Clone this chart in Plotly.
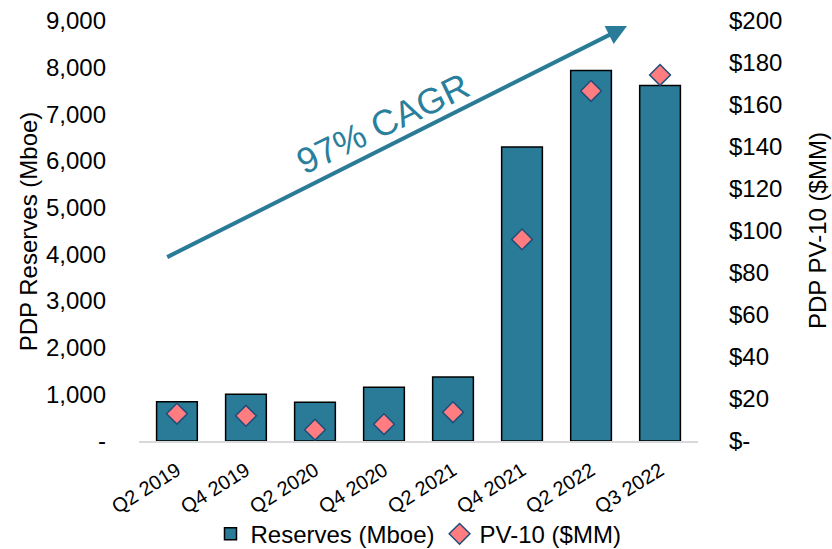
import plotly.graph_objects as go

# Quarterly PDP reserves and PV-10
quarters = ["Q2 2019", "Q4 2019", "Q2 2020", "Q4 2020", "Q2 2021", "Q4 2021", "Q2 2022", "Q3 2022"]
reserves_mboe = [840, 1000, 830, 1150, 1370, 6300, 7940, 7620]
pv10_mm = [13, 12, 5.4, 8, 13.7, 96, 166.7, 174.3]

left_ticks = [0, 1000, 2000, 3000, 4000, 5000, 6000, 7000, 8000, 9000]
left_labels = ["-", "1,000", "2,000", "3,000", "4,000", "5,000", "6,000", "7,000", "8,000", "9,000"]
right_ticks = [0, 20, 40, 60, 80, 100, 120, 140, 160, 180, 200]
right_labels = ["$-", "$20", "$40", "$60", "$80", "$100", "$120", "$140", "$160", "$180", "$200"]

TEAL = "#297b97"
FONT = "Liberation Sans, Arial, sans-serif"

fig = go.Figure()
fig.add_trace(go.Bar(
    x=quarters, y=reserves_mboe, name="Reserves (Mboe)",
    marker=dict(color=TEAL, line=dict(color="#000000", width=1.5)),
    yaxis="y",
))
fig.add_trace(go.Scatter(
    x=quarters, y=pv10_mm, name="PV-10 ($MM)", mode="markers",
    marker=dict(symbol="diamond", size=16, color="#ff7c80",
                line=dict(color="#1f4e79", width=1.5)),
    yaxis="y2",
))

fig.update_layout(
    width=832, height=549,
    margin=dict(l=139, r=134, t=21, b=108, autoexpand=False),
    paper_bgcolor="white", plot_bgcolor="white",
    font=dict(family=FONT, color="#000000"),
    bargap=0.41,
    showlegend=True,
    legend=dict(orientation="h", x=0.5, xanchor="center", y=-0.222, yanchor="middle",
                font=dict(size=24, family=FONT), itemwidth=30, tracegroupgap=0),
    xaxis=dict(
        showgrid=False, showline=True, linecolor="#d9d9d9", linewidth=2,
        tickangle=-32, tickfont=dict(size=20, family=FONT), ticks="",
        ticklabelstandoff=8, automargin=False,
    ),
    yaxis=dict(
        range=[0, 9000], tickvals=left_ticks, ticktext=left_labels,
        showgrid=False, zeroline=False, showline=False,
        tickfont=dict(size=24, family=FONT), ticklabelstandoff=32,
        automargin=False,
    ),
    yaxis2=dict(
        range=[0, 200], tickvals=right_ticks, ticktext=right_labels,
        overlaying="y", side="right",
        showgrid=False, zeroline=False, showline=False,
        tickfont=dict(size=24, family=FONT), ticklabelstandoff=30,
        automargin=False,
    ),
)

# Axis titles
fig.add_annotation(text="PDP Reserves (Mboe)", xref="paper", yref="paper",
                   x=-0.198, y=0.5, xanchor="center", yanchor="middle",
                   textangle=-90, showarrow=False, font=dict(size=24, family=FONT))
fig.add_annotation(text="PDP PV-10 ($MM)", xref="paper", yref="paper",
                   x=1.213, y=0.5, xanchor="center", yanchor="middle",
                   textangle=-90, showarrow=False, font=dict(size=24, family=FONT))

# Growth arrow and label
fig.add_annotation(x=0.873, y=0.988, ax=0.0478, ay=0.436,
                   xref="x domain", yref="y domain", axref="x domain", ayref="y domain",
                   showarrow=True, arrowhead=2, arrowsize=1.0, arrowwidth=4,
                   arrowcolor=TEAL, text="")
fig.add_annotation(text="97% CAGR", xref="paper", yref="paper",
                   x=0.4365, y=0.755, xanchor="center", yanchor="middle",
                   textangle=-25.6, showarrow=False,
                   font=dict(size=36, family=FONT, color="#2a7f9c"))

fig.write_html("out.html")
